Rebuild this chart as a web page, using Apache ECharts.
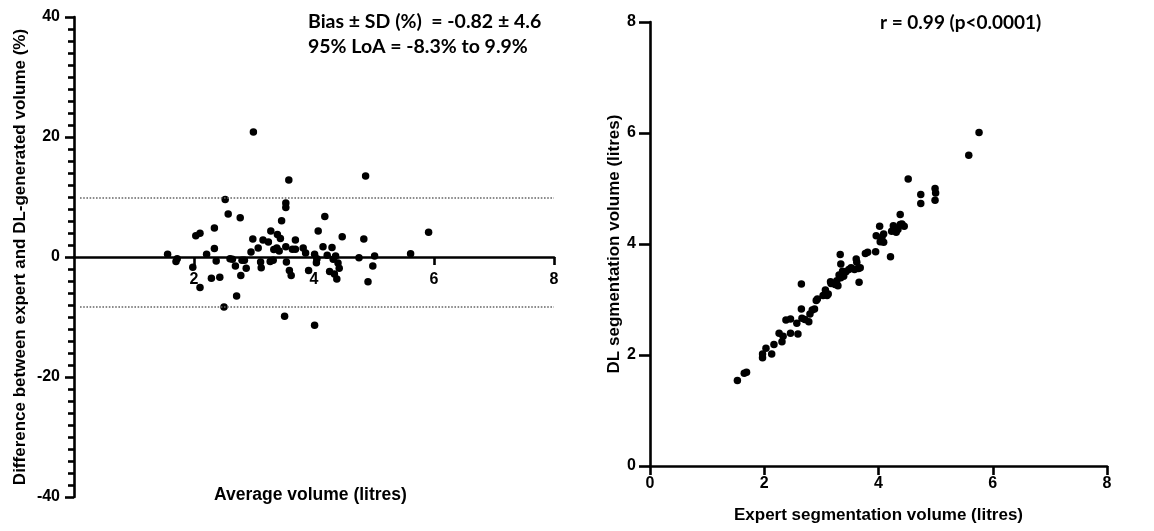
<!DOCTYPE html>
<html>
<head>
<meta charset="utf-8">
<script src="https://cdn.jsdelivr.net/npm/echarts@6/dist/echarts.min.js"></script>
<style>
  html, body { margin: 0; padding: 0; background: #fff; }
  #chart { width: 1154px; height: 531px; }
</style>
</head>
<body>
<div id="chart"></div>
<script>
// ---- Bland-Altman (left) ----
const baAverage = [1.56,1.70,1.72,1.98,2.03,2.10,2.10,2.21,2.29,2.34,2.34,2.37,2.43,2.50,2.52,2.57,2.60,2.64,2.69,2.71,2.77,2.78,2.80,2.84,2.87,2.95,2.98,2.99,3.07,3.11,3.12,3.15,3.24,3.27,3.28,3.32,3.33,3.38,3.39,3.42,3.44,3.46,3.53,3.53,3.53,3.54,3.51,3.58,3.59,3.62,3.64,3.69,3.69,3.82,3.86,3.91,4.01,4.01,4.04,4.05,4.07,4.15,4.18,4.22,4.26,4.30,4.32,4.34,4.36,4.38,4.40,4.42,4.47,4.75,4.83,4.86,4.90,4.98,5.01,5.61,5.91];
const baDiff = [0.45,-0.73,-0.28,-1.69,3.55,3.94,-5.07,0.45,-3.55,4.85,1.41,-0.68,-3.38,-8.34,9.58,7.15,-0.28,-0.39,-1.52,-6.48,6.54,-3.10,-0.56,-0.56,-1.86,0.85,2.99,20.85,1.52,-0.85,-1.80,2.82,2.48,-0.73,4.34,-0.56,1.24,1.52,3.77,1.01,3.10,6.03,1.69,8.23,9.01,-0.85,-9.86,12.85,-2.25,-3.10,1.30,1.30,2.82,1.52,0.68,-2.25,0.45,-11.38,-0.96,-0.28,4.34,1.69,6.76,0.28,-2.42,1.58,-0.39,-2.82,0.17,-3.66,-1.01,-1.86,3.38,-0.11,2.99,13.52,-4.11,-1.52,0.17,0.56,4.11];
const loaUpper = 9.9;
const loaLower = -8.3;
const baTicksY = [-40, -20, 0, 20, 40];
const baTicksX = [0, 2, 4, 6, 8];
const baText1 = 'Bias \u00B1 SD (%)  = -0.82 \u00B1 4.6';
const baText2 = '95% LoA = -8.3% to 9.9%';

// ---- Correlation (right) ----
const expertVol = [1.53,1.65,1.69,1.97,1.97,2.03,2.13,2.17,2.26,2.31,2.33,2.38,2.46,2.46,2.57,2.59,2.65,2.65,2.66,2.71,2.78,2.80,2.84,2.88,2.91,2.93,3.03,3.07,3.10,3.12,3.16,3.17,3.24,3.27,3.29,3.31,3.33,3.34,3.34,3.37,3.39,3.43,3.48,3.52,3.58,3.61,3.62,3.65,3.66,3.68,3.77,3.81,3.95,3.96,4.02,4.03,4.06,4.09,4.09,4.21,4.23,4.26,4.31,4.34,4.38,4.38,4.41,4.45,4.52,4.74,4.74,4.99,5.00,4.99,5.58,5.76];
const dlVol = [1.54,1.67,1.69,2.02,1.95,2.12,2.02,2.19,2.39,2.24,2.34,2.63,2.65,2.39,2.57,2.38,3.28,2.83,2.66,2.64,2.60,2.74,2.81,2.83,2.98,3.01,3.07,3.17,3.07,3.10,3.32,3.29,3.27,3.34,3.25,3.44,3.81,3.64,3.39,3.51,3.42,3.50,3.54,3.57,3.54,3.73,3.67,3.56,3.31,3.57,3.83,3.85,3.86,4.15,4.32,4.04,4.12,4.18,4.03,3.77,4.23,4.33,4.21,4.26,4.35,4.53,4.36,4.32,5.17,4.89,4.73,5.00,4.92,4.79,5.60,6.01];
const corrTicks = [0, 2, 4, 6, 8];
const corrText = 'r = 0.99 (p<0.0001)';

const axisFont = '"Liberation Sans", Arial, sans-serif';
const noteFont = 'Lato, sans-serif';
const black = '#000';

const baData = baAverage.map((x, i) => [x, baDiff[i]]);
const corrData = expertVol.map((x, i) => [x, dlVol[i]]);

const chart = echarts.init(document.getElementById('chart'), null, { renderer: 'canvas' });

const labelStyle = { color: black, fontFamily: axisFont, fontWeight: 'bold', fontSize: 16 };
const nameStyle = { color: black, fontFamily: axisFont, fontWeight: 'bold', fontSize: 17 };

chart.setOption({
  animation: false,
  backgroundColor: '#fff',
  grid: [
    { left: 74, top: 17, width: 480, height: 480 },
    { left: 650, top: 22, width: 457, height: 444 }
  ],
  xAxis: [
    {
      gridIndex: 0, type: 'value', position: 'bottom', offset: -240,
      min: baTicksX[0], max: baTicksX[baTicksX.length - 1], interval: 2,
      axisLine: { onZero: false, lineStyle: { color: black, width: 2.6 } },
      axisTick: { show: true, inside: false, length: 8, lineStyle: { color: black, width: 2.6 } },
      axisLabel: Object.assign({ margin: 15, showMinLabel: false }, labelStyle),
      splitLine: { show: false }
    },
    {
      gridIndex: 1, type: 'value',
      min: corrTicks[0], max: corrTicks[corrTicks.length - 1], interval: 2,
      name: 'Expert segmentation volume (litres)', nameLocation: 'middle', nameGap: 41,
      nameTextStyle: nameStyle,
      axisLine: { onZero: false, lineStyle: { color: black, width: 2.6 } },
      axisTick: { show: true, length: 9, lineStyle: { color: black, width: 2.6 } },
      axisLabel: Object.assign({ margin: 10 }, labelStyle),
      splitLine: { show: false }
    }
  ],
  yAxis: [
    {
      gridIndex: 0, type: 'value',
      min: baTicksY[0], max: baTicksY[baTicksY.length - 1], interval: 20,
      name: 'Difference between expert and DL-generated volume (%)',
      nameLocation: 'middle', nameGap: 45, nameTextStyle: nameStyle,
      axisLine: { show: true, onZero: false, lineStyle: { color: black, width: 2.6 } },
      axisTick: { show: true, length: 9, lineStyle: { color: black, width: 2.6 } },
      minorTick: { show: true, splitNumber: 10, length: 6, lineStyle: { color: black, width: 2.6 } },
      axisLabel: Object.assign({ margin: 14 }, labelStyle),
      splitLine: { show: false }, minorSplitLine: { show: false }
    },
    {
      gridIndex: 1, type: 'value',
      min: corrTicks[0], max: corrTicks[corrTicks.length - 1], interval: 2,
      name: 'DL segmentation volume (litres)',
      nameLocation: 'middle', nameGap: 21, nameTextStyle: nameStyle,
      axisLine: { show: true, onZero: false, lineStyle: { color: black, width: 2.6 } },
      axisTick: { show: true, length: 11, lineStyle: { color: black, width: 2.6 } },
      axisLabel: Object.assign({ margin: 14 }, labelStyle),
      splitLine: { show: false }
    }
  ],
  series: [
    {
      type: 'scatter', xAxisIndex: 0, yAxisIndex: 0,
      data: baData, symbol: 'circle', symbolSize: 7.5,
      itemStyle: { color: black, opacity: 1 },
      markLine: {
        silent: true, symbol: 'none', label: { show: false },
        lineStyle: { color: '#666', type: 'dotted', width: 1.6 },
        data: [
          [{ coord: [0.1, loaUpper] }, { coord: [8, loaUpper] }],
          [{ coord: [0.1, loaLower] }, { coord: [8, loaLower] }]
        ]
      }
    },
    {
      type: 'scatter', xAxisIndex: 1, yAxisIndex: 1,
      data: corrData, symbol: 'circle', symbolSize: 7.5,
      itemStyle: { color: black, opacity: 1 }
    }
  ],
  graphic: [
    { type: 'text', left: 214, top: 486, style: { text: 'Average volume (litres)', fill: black, font: 'bold 17.5px ' + axisFont } },
    { type: 'text', left: 308, top: 12, style: { text: baText1, fill: black, font: 'bold 19.5px ' + noteFont } },
    { type: 'text', left: 308, top: 37, style: { text: baText2, fill: black, font: 'bold 19.5px ' + noteFont } },
    { type: 'text', left: 880, top: 13, style: { text: corrText, fill: black, font: 'bold 19px ' + noteFont } }
  ]
});
</script>
</body>
</html>
